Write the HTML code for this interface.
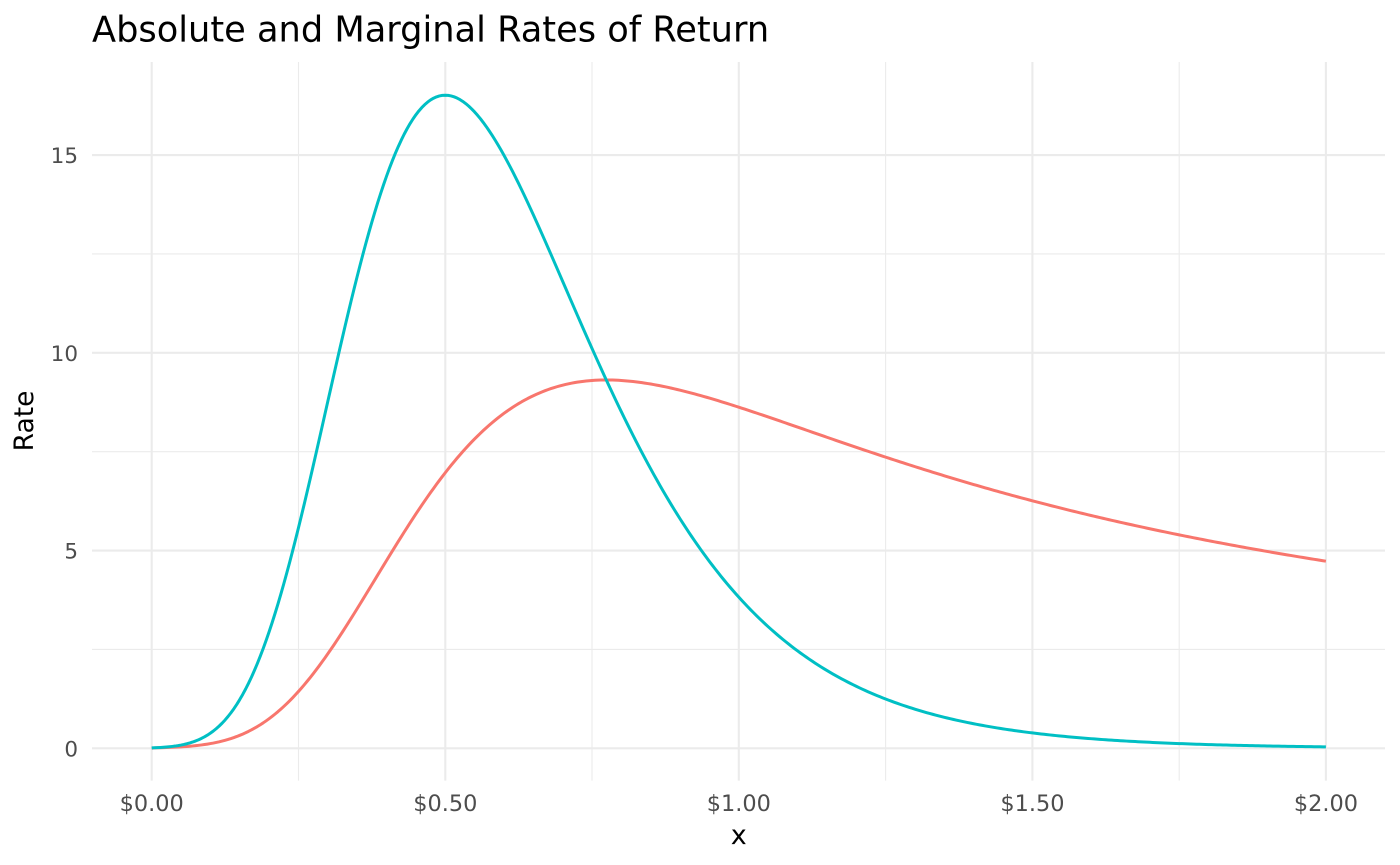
<!DOCTYPE html>
<html>
<head>
<meta charset="utf-8">
<style>
  html, body { margin: 0; padding: 0; background: #ffffff; }
  svg { display: block; }
  text { font-family: "DejaVu Sans", "Liberation Sans", sans-serif; }
</style>
</head>
<body>
<svg id="chart" width="1400" height="865" viewBox="0 0 1400 865" xmlns="http://www.w3.org/2000/svg">
  <rect x="0" y="0" width="1400" height="865" fill="#ffffff"/>
  <!-- minor gridlines -->
  <g stroke="#EBEBEB" stroke-width="1.1" fill="none">
    <line x1="298.5" y1="62" x2="298.5" y2="780.6"/>
    <line x1="592.0" y1="62" x2="592.0" y2="780.6"/>
    <line x1="885.6" y1="62" x2="885.6" y2="780.6"/>
    <line x1="1179.2" y1="62" x2="1179.2" y2="780.6"/>
    <line x1="92" y1="649.4" x2="1385" y2="649.4"/>
    <line x1="92" y1="451.7" x2="1385" y2="451.7"/>
    <line x1="92" y1="253.9" x2="1385" y2="253.9"/>
  </g>
  <!-- major gridlines -->
  <g stroke="#EBEBEB" stroke-width="2.1" fill="none">
    <line x1="151.7" y1="62" x2="151.7" y2="780.6"/>
    <line x1="445.3" y1="62" x2="445.3" y2="780.6"/>
    <line x1="738.8" y1="62" x2="738.8" y2="780.6"/>
    <line x1="1032.4" y1="62" x2="1032.4" y2="780.6"/>
    <line x1="1325.9" y1="62" x2="1325.9" y2="780.6"/>
    <line x1="92" y1="748.3" x2="1385" y2="748.3"/>
    <line x1="92" y1="550.6" x2="1385" y2="550.6"/>
    <line x1="92" y1="352.8" x2="1385" y2="352.8"/>
    <line x1="92" y1="155.1" x2="1385" y2="155.1"/>
  </g>
  <!-- series -->
  <path id="red" d="" fill="none" stroke="#F8766D" stroke-width="3" stroke-linejoin="round" stroke-linecap="butt"/>
  <path id="teal" d="" fill="none" stroke="#00BFC4" stroke-width="3" stroke-linejoin="round" stroke-linecap="butt"/>

  <!-- title -->
  <text x="92" y="41.7" font-size="35.2" fill="#000000">Absolute and Marginal Rates of Return</text>

  <!-- y tick labels -->
  <g font-size="21.5" fill="#4D4D4D" text-anchor="end">
    <text x="78" y="756.3">0</text>
    <text x="78" y="558.6">5</text>
    <text x="78" y="360.8">10</text>
    <text x="78" y="163.1">15</text>
  </g>
  <!-- x tick labels -->
  <g font-size="22.4" fill="#4D4D4D" text-anchor="middle">
    <text x="151.7" y="811">$0.00</text>
    <text x="445.3" y="811">$0.50</text>
    <text x="738.8" y="811">$1.00</text>
    <text x="1032.4" y="811">$1.50</text>
    <text x="1325.9" y="811">$2.00</text>
  </g>
  <!-- axis titles -->
  <text x="738.8" y="844" font-size="27" fill="#000000" text-anchor="middle">x</text>
  <text transform="translate(33,421) rotate(-90)" font-size="26.5" fill="#000000" text-anchor="middle">Rate</text>
</svg>
<script>
(function(){
  var L = 9.47, c = 4.74, b = Math.exp(c * 0.5);
  var f0 = L * Math.exp(-b);
  function px(x){ return 151.7 + 587.1 * x; }
  function py(y){ return 748.3 - 39.55 * y; }
  function f(x){ return L * Math.exp(-b * Math.exp(-c * x)); }
  function teal(x){ var e = b * Math.exp(-c * x); return L * c * e * Math.exp(-e); }
  function red(x){ if (x <= 0) return 0; return (f(x) - f0) / x; }
  var n = 400, dr = "", dt = "";
  for (var i = 0; i <= n; i++) {
    var x = 2 * i / n;
    var X = px(x).toFixed(2);
    dr += (i ? "L" : "M") + X + "," + py(red(x)).toFixed(2);
    dt += (i ? "L" : "M") + X + "," + py(teal(x)).toFixed(2);
  }
  document.getElementById("red").setAttribute("d", dr);
  document.getElementById("teal").setAttribute("d", dt);
})();
</script>
</body>
</html>
